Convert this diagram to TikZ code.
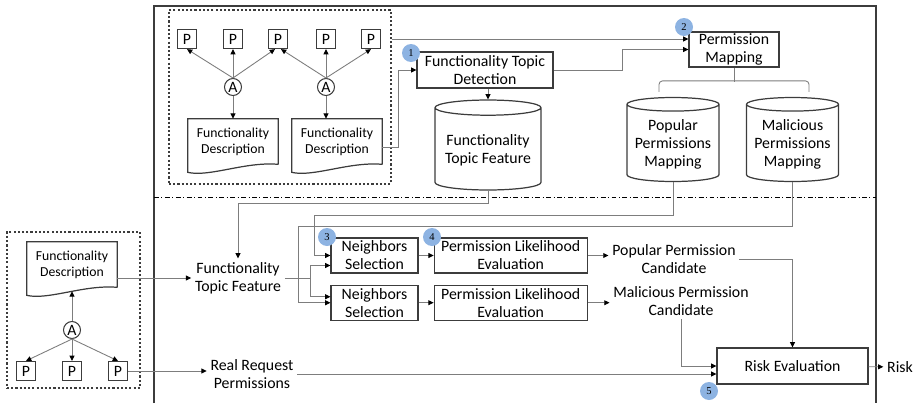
\documentclass[tikz,border=0pt]{standalone}
\usepackage{fontspec}
\setmainfont{Carlito}
\newfontfamily\numfont{Liberation Serif}
\usetikzlibrary{positioning, arrows.meta, shapes.geometric, calc}

\definecolor{linkgray}{RGB}{125,125,125}
\definecolor{edgegray}{RGB}{60,60,60}
\definecolor{stepblue}{RGB}{141,179,226}

% document symbol drawn around a plain node
\newcommand{\docoutline}[1]{%
  \draw[edgegray, line width=0.7pt] (#1.south east) -- (#1.north east) -- (#1.north west)
    -- ($(#1.south west)+(0,8)$) .. controls +(22,5) and +(-33,-3) .. (#1.south east);}

\begin{document}
\begin{tikzpicture}[
        x=0.02cm, y=-0.02cm,
        font=\fontsize{9}{10.2}\selectfont,
        box/.style={rectangle, draw=edgegray, line width=0.7pt, minimum height=0.7cm, align=center, inner sep=0.5pt},
        perm/.style={rectangle, draw=edgegray, line width=0.7pt, minimum size=0.38cm, inner sep=0pt},
        app/.style={circle, draw=edgegray, line width=0.6pt, minimum size=0.34cm, inner sep=0pt},
        doc/.style={minimum width=1.8cm, minimum height=0.9cm, align=center, inner sep=0pt, font=\fontsize{7.8}{9.2}\selectfont},
        db/.style={cylinder, shape border rotate=90, draw=edgegray, line width=0.7pt, aspect=0.17, align=center, inner sep=1pt, anchor=shape center},
        txt/.style={align=center, inner sep=2pt},
        stage/.style={circle, fill=stepblue, minimum size=0.36cm, inner sep=0pt, font=\numfont\fontsize{6}{6}\selectfont},
        group/.style={draw=edgegray, line width=0.6pt, dash pattern=on 1.2pt off 1.2pt},
        link/.style={draw=linkgray, line width=0.5pt, -{Triangle[length=3pt, width=2.8pt, color=black]}},
        plain/.style={draw=linkgray, line width=0.5pt}
    ]

        \useasboundingbox (0,0) rectangle (920,403);

        % frame and the dash-dot split between the two phases
        \draw[edgegray, line width=0.8pt] (154,403) -- (154,6) -- (876,6) -- (876,403);
        \draw[line width=0.5pt, dash pattern=on 2.8pt off 1.4pt on 0.6pt off 1.4pt] (154,197) -- (876,197);

        % training apps
        \node[group, minimum width=4.44cm, minimum height=3.48cm] (grpA) at (280,97) {};
        \foreach \i/\x in {1/187, 2/233, 3/278, 4/326, 5/371}
            \node[perm] (p\i) at (\x,39) {P};
        \node[app] (a1) at (233,87) {A};
        \node[app] (a2) at (326,87) {A};
        \node[doc] (d1) at (233,141.5) {Functionality\\Description};
        \node[doc] (d2) at (337,141.5) {Functionality\\Description};
        \docoutline{d1}
        \docoutline{d2}

        \node[box, minimum width=2.72cm, minimum height=0.72cm] (ftd) at (485,70) {Functionality Topic\\Detection};
        \node[db, minimum width=2.12cm, minimum height=1.8cm] (ftf) at (488,145) {Functionality\\Topic Feature};
        \node[box, minimum width=1.8cm] (pm) at (734,49.5) {Permission\\Mapping};
        \node[db, minimum width=1.84cm, minimum height=1.68cm] (ppm) at (673,139.5) {Popular\\Permissions\\Mapping};
        \node[db, minimum width=1.84cm, minimum height=1.68cm] (mpm) at (792.5,139.5) {Malicious\\Permissions\\Mapping};

        % detection phase
        \node[txt] (ftfin) at (238,278) {Functionality\\Topic Feature};
        \node[box, minimum width=1.74cm] (ns1) at (374.5,255.5) {Neighbors\\Selection};
        \node[box, minimum width=1.74cm, below=0.22cm of ns1] (ns2) {Neighbors\\Selection};
        \node[box, minimum width=3.06cm, right=0.3cm of ns1] (ple1) {Permission Likelihood\\Evaluation};
        \node[box, minimum width=3.06cm, right=0.3cm of ns2] (ple2) {Permission Likelihood\\Evaluation};
        \node[txt] (ppc) at (674,259) {Popular Permission\\Candidate};
        \node[txt] (mpc) at (681,301) {Malicious Permission\\Candidate};
        \node[box, minimum width=3.02cm, minimum height=0.72cm] (re) at (792.5,366) {Risk Evaluation};
        \node[txt] (risk) at (900,367) {Risk};
        \node[txt] (rrp) at (252,374) {Real Request\\Permissions};

        % app under test
        \node[group, minimum width=2.66cm, minimum height=3.12cm] (grpB) at (73.5,310) {};
        \node[doc] (d3) at (72,264.5) {Functionality\\Description};
        \docoutline{d3}
        \node[app] (a3) at (72,330) {A};
        \foreach \i/\x in {1/26, 2/72, 3/118}
            \node[perm] (q\i) at (\x,371) {P};

        % step numbers
        \node[stage] (s1) at (411,53) {1};
        \node[stage] (s2) at (684,27) {2};
        \node[stage] (s3) at (327,237) {3};
        \node[stage] (s4) at (432,237) {4};
        \node[stage] (s5) at (709,391) {5};

        \foreach \p in {p1,p2}
            \draw[link] (a1.north) -- (\p.south);
        \draw[link] (a1.north) -- ([xshift=-1.7pt]p3.south);
        \draw[link] (a2.north) -- ([xshift=1.7pt]p3.south);
        \foreach \p in {p4,p5}
            \draw[link] (a2.north) -- (\p.south);
        \draw[link] (a1) -- (d1);
        \draw[link] (a2) -- (a2 |- d2.north);

        \draw[link] ($(d2.east)+(0,6)$) -- ++(16,0) |- (ftd.west);
        \draw[link] (grpA.east |- p5) -- (p5 -| pm.west);
        \draw[link] (ftd.east) -- ++(69,0) |- (pm.west);
        \draw[link] (ftf.north |- ftd.south) -- (ftf.north);
        \draw[plain] (pm.south) -- ++(0,14);
        \draw[plain, rounded corners=2pt] ($(ppm.north)+(-14,-5)$) -- ++(0,-11) -| ($(mpm.north)+(16.5,-5)$);

        \draw[link] (ftf.south) -- ++(0,13) -| (ftfin.north);
        \draw[link] (ppm.south) -- ++(0,33) -| ($(ns1.west)+(-16,0)$) -- (ns1.west);
        \draw[link] (mpm.south) -- ++(0,44) -| ($(ns2.west)+(-32,0)$) -- (ns2.west);
        \coordinate (split) at (310,278);
        \draw[plain] (ftfin.east) -- (split);
        \draw[link] (split) |- ($(ns1.west)+(0,10)$);
        \draw[link] (split) |- ($(ns2.west)+(0,-6)$);
        \draw[link] (ns1) -- (ple1);
        \draw[link] (ns2) -- (ple2);
        \draw[link] (ple1.east) -- (ple1.east -| ppc.west);
        \draw[link] (ple2.east) -- (ple2.east -| mpc.west);
        \draw[link] (ppc.east) -| (re.north);
        \draw[link] (mpc.south) |- (re.west);
        \draw[link] (rrp.east) -- (rrp.east -| re.west);
        \draw[link] (re) -- (risk);

        \draw[link] (a3) -- ($(d3.south)+(0,4)$);
        \foreach \q in {q1,q2,q3}
            \draw[link] (a3.south) -- (\q.north);
        \draw[link] (d3.east |- ftfin.west) -- (ftfin.west);
        \draw[link] (q3.east) -- (q3.east -| rrp.west);

    \end{tikzpicture}
\end{document}
